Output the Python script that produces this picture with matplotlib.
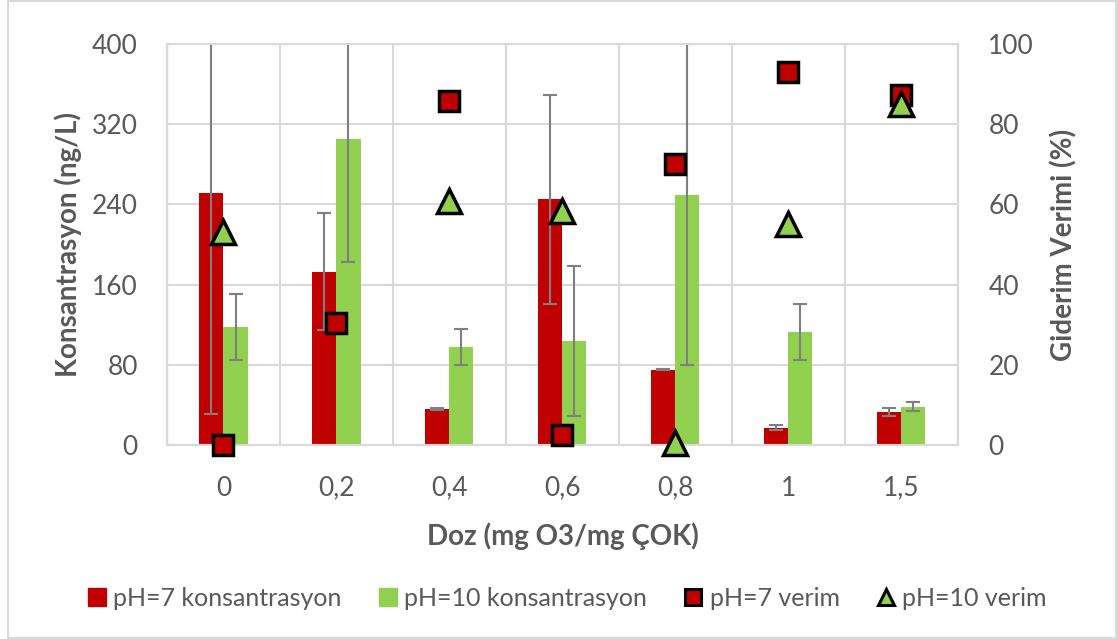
import numpy as np
import matplotlib.pyplot as plt
from matplotlib.patches import Rectangle
from matplotlib.lines import Line2D

plt.rcParams['font.family'] = ['Lato', 'DejaVu Sans']

# ------------------------- data ------------------------------------
doses = ["0", "0,2", "0,4", "0,6", "0,8", "1", "1,5"]
conc_ph7 = [251, 173, 36, 245, 75, 17, 33]
conc_ph7_err = [220, 58, 1, 104, 0.5, 2.5, 4]
conc_ph10 = [118, 305, 98, 104, 249, 113, 38]
conc_ph10_err = [33, 122, 18, 75, 169, 28, 4.5]
eff_ph7 = [0, 30.5, 85.8, 2.5, 70, 93, 87.3]
eff_ph10 = [53, np.nan, 60.8, 58.3, 0.5, 55, 85]

RED = "#C00000"
GREEN = "#92D050"
GRAY_TXT = "#595959"
GRID = "#D9D9D9"

# ------------------------- figure ----------------------------------
fig = plt.figure(figsize=(11.17, 6.39), dpi=100)
ax = fig.add_axes([0.1495, 0.3036, 0.708, 0.6275])
ax2 = ax.twinx()

x = np.arange(len(doses))
w = 0.213
ax.bar(x - w / 2, conc_ph7, w, color=RED, zorder=2)
ax.bar(x + w / 2, conc_ph10, w, color=GREEN, zorder=2)
ax.errorbar(x - w / 2, conc_ph7, yerr=conc_ph7_err, fmt="none", ecolor="#7F7F7F",
            elinewidth=1.5, capsize=5, capthick=1.5, zorder=3)
ax.errorbar(x + w / 2, conc_ph10, yerr=conc_ph10_err, fmt="none", ecolor="#7F7F7F",
            elinewidth=1.5, capsize=5, capthick=1.5, zorder=3)

ax.set_xlim(-0.5, len(doses) - 0.5)
ax.set_ylim(0, 400)
ax.set_yticks(np.arange(0, 401, 80))
ax.set_xticks(x)
ax.set_xticklabels(doses)
ax.set_xticks(np.arange(-0.5, len(doses), 1), minor=True)
ax.grid(True, axis="y", color=GRID, lw=1.5)
ax.grid(True, axis="x", which="minor", color=GRID, lw=1.5)
ax.set_axisbelow(True)

ax2.plot(x, eff_ph7, ls="none", marker="s", ms=15, mfc=RED, mec="black", mew=2.5,
         clip_on=False, zorder=5)
ax2.plot(x, eff_ph10, ls="none", marker="^", ms=17, mfc=GREEN, mec="black", mew=2.5,
         clip_on=False, zorder=6)
ax2.set_ylim(0, 100)
ax2.set_yticks(np.arange(0, 101, 20))

for a in (ax, ax2):
    for s in a.spines.values():
        s.set_color(GRID)
        s.set_linewidth(1.5)
    a.tick_params(length=0, labelsize=19, colors=GRAY_TXT, which="both")
ax.tick_params(axis="y", pad=21)
ax.tick_params(axis="x", pad=22)
ax2.tick_params(axis="y", pad=22)

ax.set_ylabel("Konsantrasyon (ng/L)", fontsize=20, fontweight="bold", color=GRAY_TXT, labelpad=7)
ax2.set_ylabel("Giderim Verimi (%)", fontsize=20, fontweight="bold", color=GRAY_TXT, labelpad=12)
ax.set_xlabel("Doz (mg O3/mg ÇOK)", fontsize=20, fontweight="bold", color=GRAY_TXT, labelpad=16)

handles = [
    Rectangle((0, 0), 1, 1, color=RED),
    Rectangle((0, 0), 1, 1, color=GREEN),
    Line2D([], [], ls="none", marker="s", ms=11, mfc=RED, mec="black", mew=2.2),
    Line2D([], [], ls="none", marker="^", ms=12, mfc=GREEN, mec="black", mew=2.2),
]
labels = ["pH=7 konsantrasyon", "pH=10 konsantrasyon", "pH=7 verim", "pH=10 verim"]
fig.legend(handles, labels, loc="center", bbox_to_anchor=(0.508, 0.064), ncol=4,
           frameon=False, fontsize=18, handlelength=0.7, handleheight=0.7,
           handletextpad=0.3, columnspacing=1.5, labelcolor=GRAY_TXT)

fig.patches.append(Rectangle((8 / 1117, 1 / 639), 1108 / 1117, 637 / 639,
                             transform=fig.transFigure, fill=False,
                             edgecolor=GRID, lw=1.5))

fig.savefig("out.png", dpi=100)
